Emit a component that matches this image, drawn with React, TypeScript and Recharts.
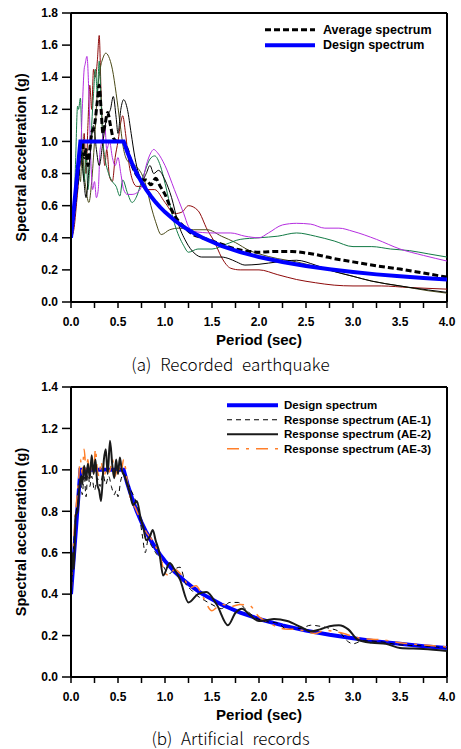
import React from 'react';
import { LineChart, Line, XAxis, YAxis, ReferenceLine, Legend } from 'recharts';

type P = { t: number; v: number };
const pts = (a: number[]): P[] => {
  const out: P[] = [];
  for (let i = 0; i < a.length; i += 2) out.push({ t: a[i], v: a[i + 1] });
  return out;
};

// ---------- (a) Recorded earthquake ----------
const designSpectrum = [0, 0.4, 0.1, 1.0, 0.56, 1.0, 0.6, 0.933, 0.65, 0.862, 0.7, 0.8, 0.75, 0.747, 0.8, 0.7, 0.85, 0.659, 0.9, 0.622, 0.95, 0.589, 1.0, 0.56, 1.1, 0.509, 1.2, 0.467, 1.3, 0.431, 1.4, 0.4, 1.6, 0.35, 1.8, 0.311, 2.0, 0.28, 2.25, 0.249, 2.5, 0.224, 2.75, 0.204, 3.0, 0.187, 3.25, 0.172, 3.5, 0.16, 3.75, 0.149, 4.0, 0.14];

const recDarkRed = [0, 0.4, 0.03, 0.45, 0.06, 0.62, 0.08, 0.75, 0.1, 0.9, 0.12, 0.85, 0.14, 1.05, 0.16, 0.8, 0.18, 1.1, 0.2, 1.35, 0.22, 1.2, 0.24, 1.45, 0.26, 1.4, 0.28, 1.5, 0.3, 1.66, 0.32, 1.3, 0.34, 1.0, 0.36, 0.85, 0.38, 0.95, 0.41, 0.78, 0.44, 0.75, 0.47, 0.9, 0.5, 1.0, 0.53, 1.12, 0.55, 1.16, 0.58, 1.05, 0.62, 0.85, 0.66, 0.75, 0.7, 0.72, 0.75, 0.72, 0.8, 0.7, 0.89, 0.7, 1.0, 0.62, 1.1, 0.55, 1.18, 0.56, 1.25, 0.6, 1.35, 0.57, 1.45, 0.45, 1.53, 0.37, 1.6, 0.28, 1.7, 0.21, 1.8, 0.2, 2.0, 0.2, 2.2, 0.17, 2.4, 0.14, 2.6, 0.12, 2.8, 0.105, 3.0, 0.1, 3.3, 0.1, 3.6, 0.09, 4.0, 0.08];

const recGreen = [0, 0.4, 0.03, 0.55, 0.05, 0.9, 0.07, 1.22, 0.08, 1.2, 0.1, 1.27, 0.12, 0.9, 0.14, 0.75, 0.16, 0.95, 0.18, 0.7, 0.2, 0.85, 0.22, 1.1, 0.24, 1.3, 0.26, 1.45, 0.28, 1.3, 0.3, 1.5, 0.32, 1.25, 0.34, 1.0, 0.36, 0.9, 0.4, 0.8, 0.44, 0.75, 0.48, 0.72, 0.52, 0.66, 0.55, 0.76, 0.6, 0.68, 0.65, 0.62, 0.7, 0.66, 0.75, 0.75, 0.79, 0.82, 0.84, 0.89, 0.89, 0.91, 0.95, 0.85, 1.0, 0.74, 1.1, 0.49, 1.2, 0.35, 1.25, 0.31, 1.35, 0.33, 1.5, 0.33, 1.65, 0.36, 1.8, 0.39, 2.0, 0.4, 2.2, 0.41, 2.4, 0.43, 2.6, 0.41, 2.8, 0.38, 3.0, 0.345, 3.2, 0.345, 3.4, 0.33, 3.6, 0.32, 3.8, 0.3, 4.0, 0.28];

const recOlive = [0, 0.4, 0.03, 0.5, 0.06, 0.7, 0.08, 0.85, 0.1, 0.75, 0.12, 0.95, 0.14, 0.8, 0.16, 0.7, 0.19, 0.62, 0.22, 0.75, 0.25, 1.0, 0.28, 1.3, 0.31, 1.45, 0.34, 1.52, 0.37, 1.55, 0.4, 1.53, 0.44, 1.45, 0.48, 1.3, 0.52, 1.12, 0.56, 0.95, 0.6, 0.88, 0.7, 0.84, 0.75, 0.8, 0.8, 0.72, 0.85, 0.6, 0.9, 0.5, 0.96, 0.42, 1.05, 0.45, 1.15, 0.46, 1.3, 0.45, 1.45, 0.45, 1.6, 0.41, 1.75, 0.37, 1.9, 0.32, 2.0, 0.3, 2.2, 0.27, 2.4, 0.25, 2.6, 0.22, 2.8, 0.19, 3.0, 0.16, 3.2, 0.13, 3.5, 0.1, 3.8, 0.07, 4.0, 0.055];

const recBlack = [0, 0.4, 0.04, 0.6, 0.07, 0.85, 0.1, 0.95, 0.13, 0.8, 0.16, 0.65, 0.2, 0.9, 0.24, 1.1, 0.27, 0.95, 0.3, 0.85, 0.34, 1.0, 0.38, 1.15, 0.42, 1.2, 0.45, 1.28, 0.48, 1.15, 0.5, 1.05, 0.53, 1.2, 0.56, 1.26, 0.6, 1.2, 0.64, 1.05, 0.68, 0.9, 0.72, 0.8, 0.76, 0.76, 0.8, 0.8, 0.84, 0.85, 0.88, 0.8, 0.93, 0.82, 1.0, 0.76, 1.07, 0.65, 1.14, 0.49, 1.22, 0.38, 1.32, 0.3, 1.39, 0.28, 1.5, 0.28, 1.6, 0.28, 1.68, 0.27, 1.76, 0.25, 1.85, 0.23, 2.0, 0.235, 2.2, 0.25, 2.4, 0.26, 2.6, 0.23, 2.8, 0.19, 3.0, 0.16, 3.2, 0.13, 3.5, 0.1, 3.8, 0.075, 4.0, 0.06];

const recPurple = [0, 0.4, 0.03, 0.5, 0.06, 0.75, 0.08, 0.8, 0.1, 0.9, 0.12, 1.2, 0.14, 1.45, 0.15, 1.48, 0.17, 1.53, 0.19, 1.3, 0.21, 0.9, 0.23, 0.7, 0.25, 0.75, 0.27, 0.65, 0.29, 0.7, 0.31, 0.95, 0.33, 1.0, 0.36, 1.1, 0.38, 0.95, 0.41, 1.0, 0.44, 0.9, 0.47, 0.85, 0.5, 0.9, 0.53, 0.8, 0.56, 0.7, 0.6, 0.67, 0.65, 0.67, 0.7, 0.68, 0.75, 0.72, 0.8, 0.85, 0.85, 0.93, 0.88, 0.95, 0.92, 0.93, 1.0, 0.85, 1.1, 0.7, 1.2, 0.55, 1.25, 0.47, 1.3, 0.44, 1.5, 0.43, 1.7, 0.43, 1.85, 0.41, 2.0, 0.4, 2.1, 0.43, 2.25, 0.48, 2.4, 0.49, 2.55, 0.485, 2.7, 0.46, 2.85, 0.46, 3.0, 0.44, 3.25, 0.39, 3.5, 0.33, 3.75, 0.29, 4.0, 0.255];

const averageSpectrum = [0, 0.4, 0.04, 0.6, 0.08, 0.82, 0.1, 0.95, 0.12, 1.0, 0.14, 0.9, 0.16, 0.95, 0.18, 0.85, 0.2, 0.95, 0.22, 1.05, 0.25, 1.1, 0.28, 1.25, 0.3, 1.35, 0.32, 1.2, 0.34, 1.05, 0.36, 1.1, 0.39, 1.18, 0.42, 1.1, 0.45, 1.02, 0.5, 1.0, 0.55, 1.0, 0.6, 0.95, 0.65, 0.85, 0.7, 0.79, 0.75, 0.76, 0.8, 0.76, 0.85, 0.73, 0.9, 0.77, 0.95, 0.72, 1.0, 0.67, 1.05, 0.6, 1.1, 0.54, 1.15, 0.5, 1.2, 0.47, 1.3, 0.42, 1.4, 0.4, 1.5, 0.38, 1.6, 0.36, 1.75, 0.33, 1.9, 0.315, 2.0, 0.31, 2.2, 0.315, 2.35, 0.315, 2.5, 0.305, 2.65, 0.29, 2.8, 0.27, 3.0, 0.25, 3.25, 0.225, 3.5, 0.205, 3.75, 0.18, 4.0, 0.155];

// ---------- (b) Artificial records ----------
const ae1 = [0, 0.4, 0.02, 0.55, 0.04, 0.72, 0.06, 0.82, 0.08, 0.9, 0.1, 0.95, 0.12, 0.88, 0.14, 0.98, 0.16, 0.87, 0.18, 1.0, 0.2, 0.92, 0.22, 0.97, 0.25, 0.9, 0.28, 0.96, 0.31, 0.92, 0.34, 0.98, 0.37, 0.93, 0.4, 0.97, 0.43, 0.92, 0.46, 0.88, 0.48, 0.9, 0.5, 0.87, 0.53, 0.95, 0.56, 0.98, 0.6, 0.94, 0.64, 0.9, 0.68, 0.86, 0.72, 0.8, 0.76, 0.68, 0.79, 0.6, 0.82, 0.66, 0.86, 0.63, 0.9, 0.6, 0.95, 0.57, 1.0, 0.52, 1.05, 0.5, 1.1, 0.52, 1.16, 0.53, 1.22, 0.45, 1.28, 0.42, 1.35, 0.39, 1.42, 0.37, 1.5, 0.35, 1.6, 0.33, 1.69, 0.36, 1.78, 0.36, 1.85, 0.33, 1.95, 0.29, 2.05, 0.27, 2.2, 0.26, 2.3, 0.23, 2.45, 0.235, 2.55, 0.25, 2.65, 0.245, 2.75, 0.235, 2.85, 0.22, 2.95, 0.17, 3.0, 0.16, 3.1, 0.175, 3.3, 0.17, 3.5, 0.155, 3.75, 0.15, 4.0, 0.14];

const ae2 = [0, 0.4, 0.02, 0.6, 0.03, 0.52, 0.05, 0.78, 0.07, 0.8, 0.09, 0.92, 0.11, 0.97, 0.12, 0.93, 0.14, 1.02, 0.16, 0.95, 0.18, 1.03, 0.2, 0.96, 0.22, 1.07, 0.24, 0.98, 0.26, 1.05, 0.28, 0.93, 0.3, 0.9, 0.32, 0.85, 0.35, 1.05, 0.37, 1.1, 0.39, 0.98, 0.415, 1.14, 0.44, 1.02, 0.46, 0.96, 0.48, 1.05, 0.5, 0.98, 0.52, 1.06, 0.54, 1.0, 0.57, 0.97, 0.6, 0.93, 0.63, 0.88, 0.66, 0.83, 0.7, 0.85, 0.74, 0.77, 0.77, 0.72, 0.8, 0.66, 0.84, 0.68, 0.87, 0.71, 0.9, 0.66, 0.94, 0.6, 0.98, 0.49, 1.05, 0.55, 1.1, 0.52, 1.16, 0.47, 1.25, 0.36, 1.35, 0.4, 1.44, 0.41, 1.55, 0.35, 1.67, 0.25, 1.75, 0.31, 1.82, 0.33, 1.9, 0.3, 2.0, 0.27, 2.08, 0.275, 2.16, 0.28, 2.3, 0.27, 2.45, 0.24, 2.55, 0.22, 2.65, 0.23, 2.75, 0.245, 2.85, 0.25, 2.95, 0.23, 3.05, 0.18, 3.2, 0.165, 3.35, 0.16, 3.5, 0.14, 3.75, 0.135, 4.0, 0.125];

const ae3 = [0, 0.4, 0.02, 0.58, 0.04, 0.75, 0.06, 0.85, 0.08, 0.95, 0.1, 1.05, 0.12, 0.98, 0.14, 1.1, 0.16, 1.0, 0.18, 1.05, 0.2, 0.96, 0.22, 1.03, 0.24, 0.98, 0.26, 1.1, 0.28, 1.0, 0.3, 0.97, 0.32, 1.04, 0.35, 0.96, 0.38, 1.02, 0.41, 0.99, 0.44, 1.05, 0.47, 0.97, 0.5, 1.02, 0.53, 0.98, 0.56, 1.05, 0.6, 0.94, 0.64, 0.85, 0.68, 0.82, 0.72, 0.78, 0.76, 0.74, 0.8, 0.7, 0.85, 0.67, 0.9, 0.63, 0.95, 0.58, 1.0, 0.5, 1.05, 0.49, 1.1, 0.52, 1.16, 0.5, 1.2, 0.48, 1.26, 0.43, 1.33, 0.44, 1.4, 0.39, 1.5, 0.32, 1.56, 0.34, 1.62, 0.35, 1.7, 0.34, 1.8, 0.35, 1.9, 0.345, 2.0, 0.29, 2.1, 0.265, 2.2, 0.24, 2.3, 0.23, 2.4, 0.23, 2.5, 0.22, 2.6, 0.21, 2.7, 0.225, 2.8, 0.22, 2.9, 0.21, 3.0, 0.195, 3.1, 0.185, 3.3, 0.18, 3.5, 0.165, 3.75, 0.155, 4.0, 0.145];

const xTicks = [0, 0.25, 0.5, 0.75, 1, 1.25, 1.5, 1.75, 2, 2.25, 2.5, 2.75, 3, 3.25, 3.5, 3.75, 4];
const yTicksA = [0, 0.2, 0.4, 0.6, 0.8, 1.0, 1.2, 1.4, 1.6, 1.8];
const yTicksB = [0, 0.2, 0.4, 0.6, 0.8, 1.0, 1.2, 1.4];

const BOLD = '"Liberation Sans", Arial, sans-serif';
const tickStyle = { fill: '#000', fontSize: 12, fontWeight: 700, fontFamily: BOLD };
const xFmt = (v: number) => (Math.abs(v * 2 - Math.round(v * 2)) < 1e-6 ? v.toFixed(1) : '');
const yFmt = (v: number) => v.toFixed(1);

const YTitle = (props: any) => {
  const vb = props.viewBox || { y: 13, height: 289 };
  const cy = vb.y + vb.height / 2;
  return (
    <text x={21} y={cy} transform={`rotate(-90, 21, ${cy})`} textAnchor="middle" dominantBaseline="central"
      style={{ fontSize: 14.5, fontWeight: 700, fontFamily: BOLD, fill: '#000' }}>
      Spectral acceleration (g)
    </text>
  );
};

const XTitle = (props: any) => {
  const vb = props.viewBox || { x: 71, width: 376, y: 302 };
  const cx = vb.x + vb.width / 2;
  return (
    <text x={cx} y={vb.y + 37} textAnchor="middle" dominantBaseline="central"
      style={{ fontSize: 15, fontWeight: 700, fontFamily: BOLD, fill: '#000' }}>
      Period (sec)
    </text>
  );
};

type LegItem = { label: string; color: string; width: number; dash?: string };
const legendA: LegItem[] = [
  { label: 'Average spectrum', color: '#000', width: 3, dash: '6 3' },
  { label: 'Design spectrum', color: '#0000ff', width: 4 },
];
const legendB: LegItem[] = [
  { label: 'Design spectrum', color: '#0000ff', width: 4 },
  { label: 'Response spectrum (AE-1)', color: '#000', width: 1.2, dash: '5 4' },
  { label: 'Response spectrum (AE-2)', color: '#1a1a1a', width: 2.2 },
  { label: 'Response spectrum (AE-3)', color: '#ff7f2a', width: 1.5, dash: '12 7 3 7' },
];

const makeLegend = (items: LegItem[], lineLen: number, gap: number, rowH: number, fontSize: number, w: number) => () => (
  <svg width={w} height={items.length * rowH + 4} style={{ display: 'block' }}>
    {items.map((it, i) => {
      const y = rowH / 2 + 2 + i * rowH;
      return (
        <g key={i}>
          <line x1={2} x2={2 + lineLen} y1={y} y2={y} stroke={it.color} strokeWidth={it.width} strokeDasharray={it.dash} />
          <text x={2 + lineLen + gap} y={y} dominantBaseline="central"
            style={{ fontSize, fontWeight: 700, fontFamily: BOLD, fill: '#000' }}>{it.label}</text>
        </g>
      );
    })}
  </svg>
);

const captionStyle: React.CSSProperties = {
  position: 'absolute', left: 0, width: 461, textAlign: 'center',
  fontFamily: '"Noto Sans CJK KR", "Noto Sans", sans-serif', fontWeight: 300,
  fontSize: 17, wordSpacing: 5, color: '#000', lineHeight: '20px',
};

const axisCommon = {
  axisLine: { stroke: '#000', strokeWidth: 2 },
  tickLine: { stroke: '#000', strokeWidth: 1.5 },
};

export default function App() {
  return (
    <div style={{ position: 'absolute', left: 0, top: 0, width: 461, height: 749, background: '#fff' }}>
      <div style={{ position: 'absolute', left: 0, top: 0 }}>
        <LineChart width={461} height={352} margin={{ top: 13, right: 14, bottom: 0, left: 0 }}>
          <XAxis type="number" dataKey="t" domain={[0, 4]} ticks={xTicks} interval={0} tickFormatter={xFmt}
            tickSize={6} tickMargin={9} height={50} tick={tickStyle} {...axisCommon} allowDataOverflow
            label={<XTitle />} />
          <YAxis type="number" dataKey="v" domain={[0, 1.8]} ticks={yTicksA} interval={0} tickFormatter={yFmt}
            tickSize={9} tickMargin={4} width={71} tick={tickStyle} {...axisCommon} allowDataOverflow
            label={<YTitle />} />
          <ReferenceLine y={1.8} stroke="#000" strokeWidth={2} />
          <ReferenceLine x={4} stroke="#000" strokeWidth={2} />
          <Line data={pts(recDarkRed)} dataKey="v" type="monotone" stroke="#8e0a0a" strokeWidth={1} dot={false} isAnimationActive={false} />
          <Line data={pts(recOlive)} dataKey="v" type="monotone" stroke="#4a4a18" strokeWidth={1} dot={false} isAnimationActive={false} />
          <Line data={pts(recGreen)} dataKey="v" type="monotone" stroke="#127a45" strokeWidth={1} dot={false} isAnimationActive={false} />
          <Line data={pts(recPurple)} dataKey="v" type="monotone" stroke="#b52ee0" strokeWidth={1} dot={false} isAnimationActive={false} />
          <Line data={pts(recBlack)} dataKey="v" type="monotone" stroke="#000" strokeWidth={1} dot={false} isAnimationActive={false} />
          <Line data={pts(averageSpectrum)} dataKey="v" type="monotone" stroke="#000" strokeWidth={3} strokeDasharray="6 3" dot={false} isAnimationActive={false} />
          <Line data={pts(designSpectrum)} dataKey="v" type="linear" stroke="#0000ff" strokeWidth={4} dot={false} isAnimationActive={false} />
          <Legend layout="horizontal" verticalAlign="middle" align="center"
            wrapperStyle={{ top: 20, left: 263, width: 190 }}
            content={makeLegend(legendA, 50, 8, 15.5, 12.5, 190)} />
        </LineChart>
      </div>
      <div style={{ ...captionStyle, top: 354 }}>(a)  Recorded  earthquake</div>

      <div style={{ position: 'absolute', left: 0, top: 374 }}>
        <LineChart width={461} height={352} margin={{ top: 13, right: 14, bottom: 0, left: 0 }}>
          <XAxis type="number" dataKey="t" domain={[0, 4]} ticks={xTicks} interval={0} tickFormatter={xFmt}
            tickSize={6} tickMargin={9} height={49} tick={tickStyle} {...axisCommon} allowDataOverflow
            label={<XTitle />} />
          <YAxis type="number" dataKey="v" domain={[0, 1.4]} ticks={yTicksB} interval={0} tickFormatter={yFmt}
            tickSize={9} tickMargin={4} width={71} tick={tickStyle} {...axisCommon} allowDataOverflow
            label={<YTitle />} />
          <ReferenceLine y={1.4} stroke="#000" strokeWidth={2} />
          <ReferenceLine x={4} stroke="#000" strokeWidth={2} />
          <Line data={pts(designSpectrum)} dataKey="v" type="linear" stroke="#0000ff" strokeWidth={4} dot={false} isAnimationActive={false} />
          <Line data={pts(ae1)} dataKey="v" type="monotone" stroke="#000" strokeWidth={1} strokeDasharray="5 4" dot={false} isAnimationActive={false} />
          <Line data={pts(ae3)} dataKey="v" type="monotone" stroke="#ff7f2a" strokeWidth={1.5} strokeDasharray="12 7 3 7" dot={false} isAnimationActive={false} />
          <Line data={pts(ae2)} dataKey="v" type="monotone" stroke="#1a1a1a" strokeWidth={2} dot={false} isAnimationActive={false} />
          <Legend layout="horizontal" verticalAlign="middle" align="center"
            wrapperStyle={{ top: 22, left: 225, width: 225 }}
            content={makeLegend(legendB, 51, 6, 14.5, 11.5, 225)} />
        </LineChart>
      </div>
      <div style={{ ...captionStyle, top: 728 }}>(b)  Artificial  records</div>
    </div>
  );
}
